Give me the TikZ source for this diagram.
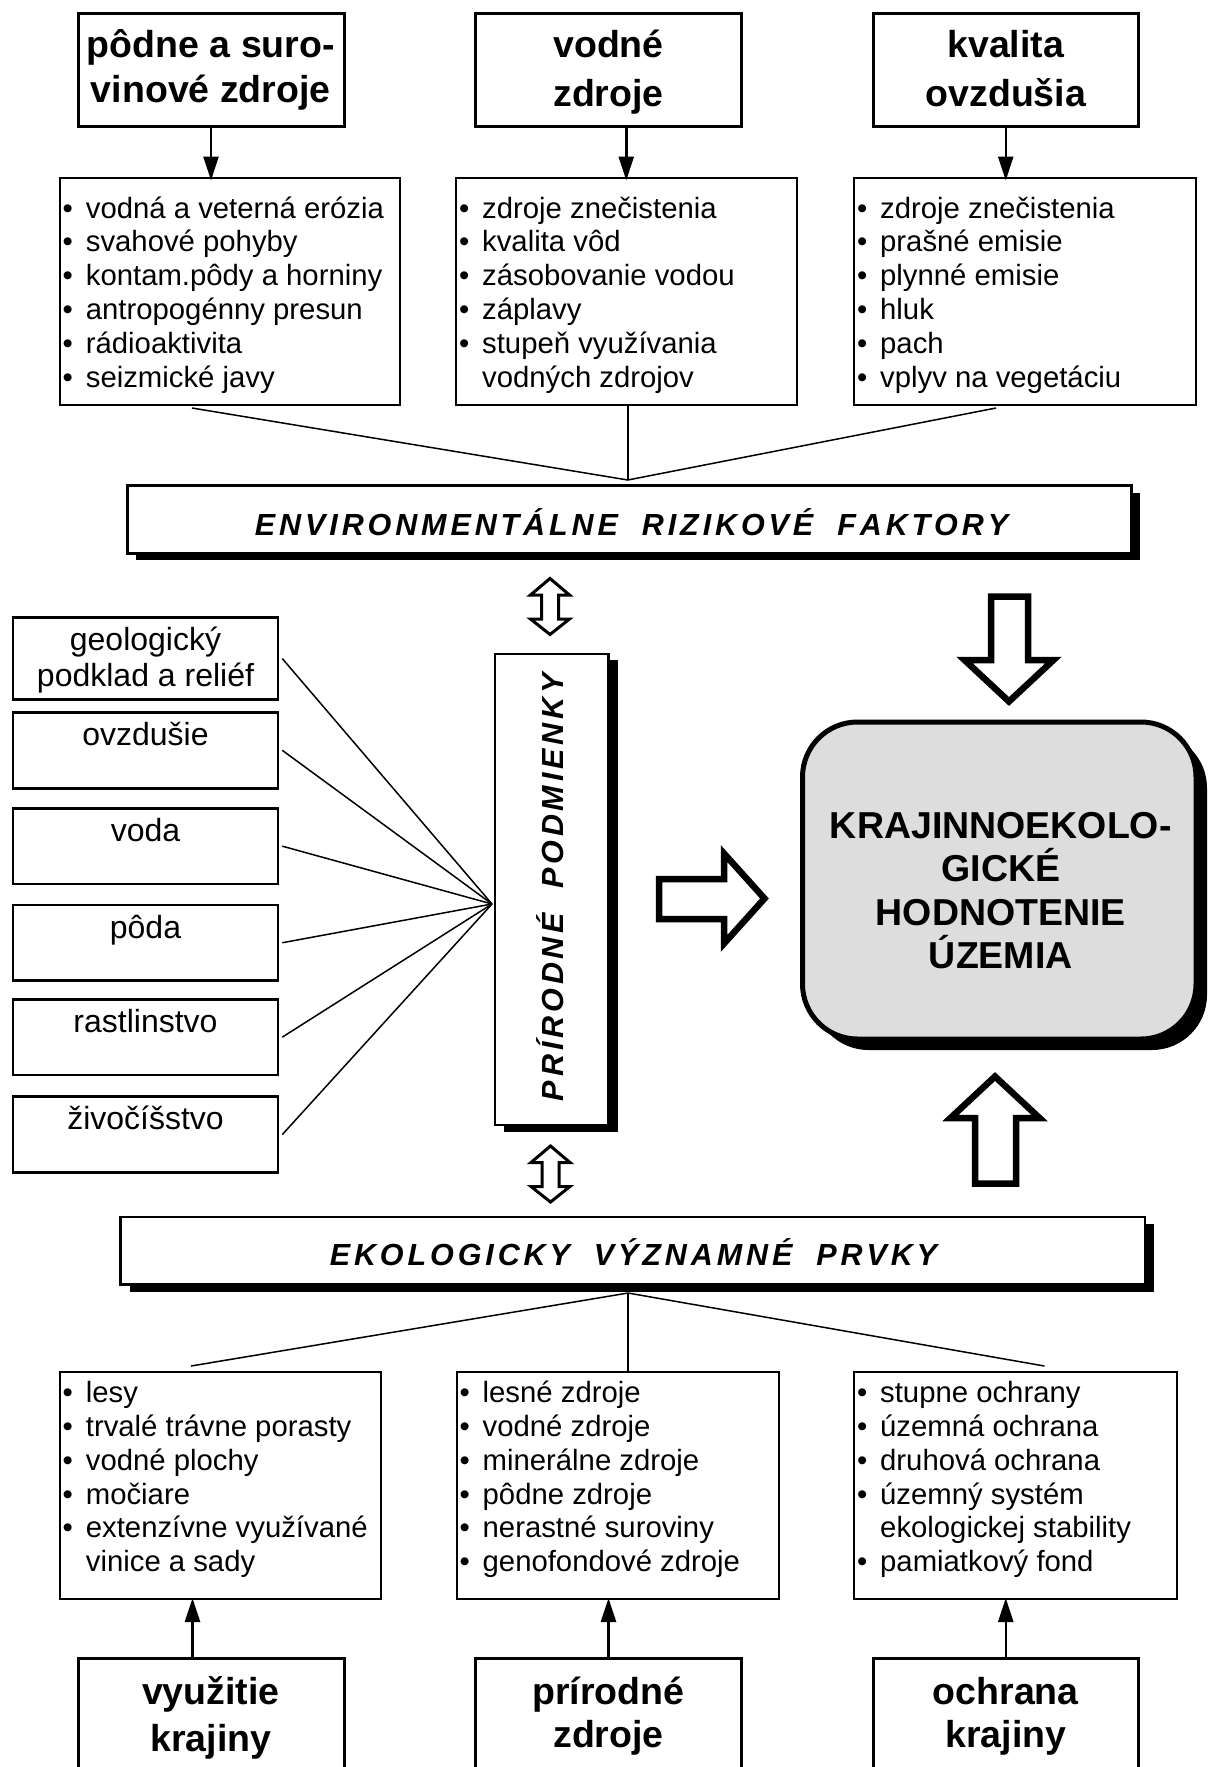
\documentclass[tikz,border=0pt]{standalone}
\usepackage{fontspec}
\setmainfont{Liberation Sans}
\usetikzlibrary{fit,arrows.meta,calc,shadows}
\definecolor{khgray}{HTML}{DDDDDD}
\newcommand\lsp[1]{\lspA#1\relax}
\newcommand\lspA[1]{\ifx#1\relax\else#1\kern3.9pt\expandafter\lspA\fi}
\newcommand\bu{\makebox[23.2pt][l]{•}}
\newcommand\ind{\hspace*{23.2pt}}
\tikzset{
  tbox/.style={draw, line width=3pt, fill=white, inner sep=0pt},
  lbox/.style={draw, line width=2pt, fill=white, inner sep=0pt},
  sbox/.style={draw, line width=2.5pt, fill=white, inner sep=0pt},
  shbox/.style={draw, line width=2.5pt, fill=white, inner sep=0pt,
    drop shadow={shadow xshift=9pt, shadow yshift=-7pt, fill=black, opacity=1}},
  khbox/.style={draw, line width=5pt, fill=khgray, inner sep=0pt, rounded corners=55pt,
    drop shadow={shadow xshift=11pt, shadow yshift=-11pt, fill=black, opacity=1}},
  ttxt/.style={inner sep=0pt, align=center, anchor=north, font=\fontsize{37.5}{#1}\selectfont\bfseries},
  ltxt/.style={inner sep=0pt, align=left, anchor=north west, font=\fontsize{29.3}{33.8}\selectfont},
  ftxt/.style={inner sep=0pt, align=center, anchor=north, font=\fontsize{32}{36}\selectfont},
  etxt/.style={inner sep=0pt, anchor=base, font=\fontsize{30.5}{36}\selectfont\bfseries\itshape},
  conn/.style={line width=1.5pt},
  thinarrow/.style={line width=2.5pt, -{Triangle[length=24pt,width=15pt]}},
  bigarrow/.style={line width=6.5pt, line join=miter, fill=white},
  dblarrow/.style={line width=3pt, line join=miter, fill=white},
}
\begin{document}
\begin{tikzpicture}[x=1pt,y=-1pt]
\useasboundingbox (0,0) rectangle (1208,1767);

% top source boxes
\node[tbox, fit={(78,13.5) (344,126.5)}] (tb1) {};
\node[tbox, fit={(475.5,13.5) (741.5,126.5)}] (tb2) {};
\node[tbox, fit={(873,13.5) (1138.5,126.5)}] (tb3) {};
\node[ttxt=45.2] (tb1t) at (210.8,27) {\rule{0pt}{30pt}pôdne a suro-\\vinové zdroje};
\node[ttxt=49.7] (tb2t) at (608.5,27) {\rule{0pt}{30pt}vodné\\zdroje};
\node[ttxt=49.7] (tb3t) at (1005.8,27) {\rule{0pt}{30pt}kvalita\\ovzdušia};

% top lists
\node[lbox, fit={(59.7,177.5) (400,405)}] (lb1) {};
\node[lbox, fit={(456,177.5) (796.5,405)}] (lb2) {};
\node[lbox, fit={(854,177.5) (1195.5,405)}] (lb3) {};
\node[ltxt] (lb1t) at (62.5,177.5) {\rule{0pt}{40.4pt}\bu vodná a veterná erózia\\\bu svahové pohyby\\\bu kontam.pôdy a horniny\\\bu antropogénny presun\\\bu rádioaktivita\\\bu seizmické javy};
\node[ltxt] (lb2t) at (458.8,177.5) {\rule{0pt}{40.4pt}\bu zdroje znečistenia\\\bu kvalita vôd\\\bu zásobovanie vodou\\\bu záplavy\\\bu stupeň využívania\\\ind vodných zdrojov};
\node[ltxt] (lb3t) at (856.8,177.5) {\rule{0pt}{40.4pt}\bu zdroje znečistenia\\\bu prašné emisie\\\bu plynné emisie\\\bu hluk\\\bu pach\\\bu vplyv na vegetáciu};

\draw[thinarrow] (tb1.south) -- ($(tb1.south |- lb1.north)+(0,4)$);
\draw[thinarrow] (lb2.north |- tb2.south) -- ($(lb2.north)+(0,4)$);
\draw[thinarrow] (tb3.south) -- ($(tb3.south |- lb3.north)+(0,4)$);

% ERF
\node[shbox, fit={(127.3,485.7) (1131.4,553.3)}] (erf) {};
\node[etxt] (erft) at (633.5,535) {\lsp{ENVIRONMENTÁLNE}\hspace{20.1pt}\lsp{RIZIKOVÉ}\hspace{20.1pt}\lsp{FAKTORY}};
\coordinate (ctop) at (627.8,480);
\coordinate (l1s) at (192,408);
\coordinate (l3s) at (996,408);
\draw[conn] (l1s) -- (ctop) -- (l3s);
\draw[conn] (lb2.south -| ctop) -- (ctop);

% double arrows
\draw[dblarrow] (550,578.5) -- (569.5,595) -- (558.5,595) -- (558.5,619) -- (569.5,619) -- (550,634.5) -- (530.5,619) -- (541.5,619) -- (541.5,595) -- (530.5,595) -- cycle;
\draw[dblarrow] (550.5,1146) -- (570,1162.5) -- (559,1162.5) -- (559,1186.5) -- (570,1186.5) -- (550.5,1202) -- (531,1186.5) -- (542,1186.5) -- (542,1162.5) -- (531,1162.5) -- cycle;

% left factor boxes
\node[sbox, fit={(13,617.5) (278,699.5)}] (geo) {};
\node[sbox, fit={(13,712.3) (278,788.3)}] (ovz) {};
\node[sbox, fit={(13,808.3) (278,884)}] (voda) {};
\node[sbox, fit={(13,905) (278,980.5)}] (poda) {};
\node[sbox, fit={(13,999.3) (278,1075)}] (rast) {};
\node[sbox, fit={(13,1096.7) (278,1172.5)}] (ziv) {};
\node[ftxt] (geot) at (145.5,617.5) {\rule{0pt}{32.8pt}geologický\\podklad a reliéf};
\node[ftxt] (ovzt) at (145.5,712.3) {\rule{0pt}{32.8pt}ovzdušie};
\node[ftxt] (vodat) at (145.5,808.3) {\rule{0pt}{32.8pt}voda};
\node[ftxt] (podat) at (145.5,905) {\rule{0pt}{32.8pt}pôda};
\node[ftxt] (rastt) at (145.5,999.3) {\rule{0pt}{32.8pt}rastlinstvo};
\node[ftxt] (zivt) at (145.5,1096.7) {\rule{0pt}{32.8pt}živočíšstvo};

% PP box
\node[shbox, drop shadow={shadow xshift=9pt, shadow yshift=-6pt, fill=black, opacity=1}, fit={(495,654) (608.5,1125)}] (pp) {};
\node[etxt, rotate=90] (ppt) at (563.5,885) {\lsp{PRÍRODNÉ}\hspace{20.1pt}\lsp{PODMIENKY}};
\coordinate (foc) at (492,904);
\foreach \n in {geo,ovz,voda,poda,rast,ziv}
  \draw[conn] ([xshift=3pt]\n.east) -- (foc);

% KH
\node[khbox, fit={(802.5,722) (1196,1039)}] (kh) {};
\node[inner sep=0pt, align=center, anchor=north, font=\fontsize{37.5}{43.3}\selectfont\bfseries] (kht) at (1000.8,808.3) {\rule{0pt}{30pt}KRAJINNOEKOLO-\\GICKÉ\\HODNOTENIE\\ÚZEMIA};

% big arrows
\draw[bigarrow] (991,596.5) -- (1028,596.5) -- (1028,660) -- (1053.5,660) -- (1009,701.5) -- (964.5,660) -- (991,660) -- cycle;
\draw[bigarrow] (659,879) -- (724,879) -- (724,853.5) -- (764.5,898.5) -- (724,943.5) -- (724,919) -- (659,919) -- cycle;
\draw[bigarrow] (975,1183.5) -- (1016,1183.5) -- (1016,1118) -- (1039.5,1118) -- (995,1076.5) -- (950.5,1118) -- (975,1118) -- cycle;

% EVP
\node[shbox, fit={(120.6,1217) (1145,1284.7)}] (evp) {};
\node[etxt] (evpt) at (635.4,1265) {\lsp{EKOLOGICKY}\hspace{20.1pt}\lsp{VÝZNAMNÉ}\hspace{20.1pt}\lsp{PRVKY}};

% bottom lists
\node[lbox, fit={(59.7,1371.5) (381,1599)}] (bl1) {};
\node[lbox, fit={(456.5,1371.5) (779,1599)}] (bl2) {};
\node[lbox, fit={(854,1371.5) (1177,1599)}] (bl3) {};
\node[ltxt] (bl1t) at (62.5,1371.5) {\rule{0pt}{31pt}\bu lesy\\\bu trvalé trávne porasty\\\bu vodné plochy\\\bu močiare\\\bu extenzívne využívané\\\ind vinice a sady};
\node[ltxt] (bl2t) at (459.3,1371.5) {\rule{0pt}{31pt}\bu lesné zdroje\\\bu vodné zdroje\\\bu minerálne zdroje\\\bu pôdne zdroje\\\bu nerastné suroviny\\\bu genofondové zdroje};
\node[ltxt] (bl3t) at (856.8,1371.5) {\rule{0pt}{31pt}\bu stupne ochrany\\\bu územná ochrana\\\bu druhová ochrana\\\bu územný systém\\\ind ekologickej stability\\\bu pamiatkový fond};

\coordinate (cbot) at (628,1293);
\coordinate (b1e) at (191,1366);
\coordinate (b3e) at (1044.4,1366);
\draw[conn] (b1e) -- (cbot) -- (b3e);
\draw[conn] (cbot) -- (cbot |- bl2.north);

% bottom source boxes
\node[tbox, fit={(78,1658.5) (344,1800)}] (bb1) {};
\node[tbox, fit={(475.5,1658.5) (741.5,1800)}] (bb2) {};
\node[tbox, fit={(873,1658.5) (1138.5,1800)}] (bb3) {};
\node[ttxt=47.7] (bb1t) at (210.8,1674) {\rule{0pt}{30pt}využitie\\krajiny};
\node[ttxt=43.1] (bb2t) at (608.5,1674) {\rule{0pt}{30pt}prírodné\\zdroje};
\node[ttxt=43.1] (bb3t) at (1005.8,1674) {\rule{0pt}{30pt}ochrana\\krajiny};

\draw[thinarrow] ($(bb1.north)+(-18.5,0)$) -- ($(bb1.north |- bl1.south)+(-18.5,-2)$);
\draw[thinarrow] (bb2.north) -- ($(bb2.north |- bl2.south)+(0,-2)$);
\draw[thinarrow] (bb3.north) -- ($(bb3.north |- bl3.south)+(0,-2)$);
\end{tikzpicture}
\end{document}
